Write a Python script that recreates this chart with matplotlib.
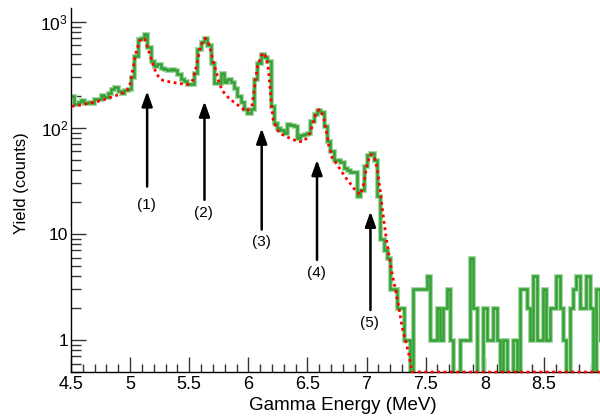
import numpy as np
import matplotlib
matplotlib.use('Agg')
import matplotlib.pyplot as plt
from matplotlib.ticker import MultipleLocator, LogLocator, FuncFormatter, NullFormatter

plt.rcParams['font.family'] = ['Liberation Sans', 'DejaVu Sans']
plt.rcParams['mathtext.fontset'] = 'custom'
plt.rcParams['mathtext.rm'] = 'Liberation Sans'

# measured spectrum, 160 bins between 4.5 and 9 MeV
e_min, e_max, n_bins = 4.5, 9.0, 160
counts = [
    200, 168, 175, 183, 170, 177, 173, 186, 186, 203,
    194, 215, 231, 243, 221, 215, 226, 231, 300, 480,
    685, 700, 763, 575, 430, 380, 397, 369, 356, 349,
    360, 349, 320, 290, 277, 262, 257, 330, 551, 640,
    707, 600, 412, 265, 265, 331, 270, 287, 270, 240,
    200, 175, 151, 137, 150, 287, 412, 494, 470, 426,
    160, 112, 100, 95, 90, 108, 106, 105, 80, 85,
    87, 90, 115, 135, 149, 140, 105, 75, 60, 50,
    50, 48, 42, 40, 38, 38, 23, 26, 44, 55,
    58, 50, 23, 9, 7, 6, 3, 3, 2, 2,
    1, 1, 0, 3, 3, 3, 3, 4, 1, 1,
    2, 1, 2, 3, 1, 0, 0, 1, 1, 1,
    6, 2, 0, 0, 2, 1, 1, 2, 1, 0,
    1, 0, 0, 1, 0, 3, 3, 2, 1, 4,
    1, 1, 3, 1, 2, 2, 4, 2, 1, 0,
    2, 3, 4, 2, 2, 4, 2, 0, 3, 1,
]

# fit curve (red dotted)
fit_energy = [4.508, 4.60, 4.66, 4.75, 4.829, 4.90, 4.969, 4.997, 5.025, 5.053,
              5.081, 5.104, 5.123, 5.143, 5.166, 5.193, 5.222, 5.250, 5.278, 5.334,
              5.418, 5.488, 5.530, 5.559, 5.587, 5.615, 5.635, 5.657, 5.677, 5.699,
              5.727, 5.755, 5.783, 5.812, 5.840, 5.90, 5.95, 5.99, 6.03, 6.050,
              6.078, 6.107, 6.128, 6.154, 6.170, 6.182, 6.196, 6.210, 6.233, 6.261,
              6.318, 6.373, 6.429, 6.471, 6.513, 6.541, 6.570, 6.598, 6.612, 6.640,
              6.654, 6.682, 6.710, 6.752, 6.794, 6.836, 6.878, 6.907, 6.949, 6.977,
              7.005, 7.033, 7.061, 7.089, 7.118, 7.131, 7.160, 7.187, 7.215, 7.244,
              7.272, 7.300, 7.328, 7.356, 7.384, 7.40, 9.0]
fit_yield = [160, 166, 172, 180, 193, 205, 221, 251, 369, 530,
             660, 700, 690, 594, 494, 397, 325, 295, 280, 272,
             262, 257, 282, 375, 540, 660, 700, 660, 560, 440,
             340, 262, 222, 205, 188, 168, 152, 144, 160, 231,
             380, 477, 510, 460, 356, 251, 161, 120, 102, 90,
             83, 78, 74, 75, 85, 104, 134, 149, 146, 122,
             100, 67, 52, 45, 38, 32.5, 28.5, 25.5, 23.5, 30,
             46, 56, 55, 42, 24.3, 18.2, 10.2, 6.6, 4.3, 3.0,
             2.06, 1.34, 1.0, 0.75, 0.5, 0, 0]

# arrows marking the peaks
peak_labels = ['(1)', '(2)', '(3)', '(4)', '(5)']
peak_energy = [5.144, 5.629, 6.113, 6.581, 7.033]
arrow_tip = [222, 178, 99, 50, 16.3]
arrow_tail = [28, 21, 11, 5.7, 1.92]
label_y = [18.9, 15.9, 8.4, 4.3, 1.45]

y_min, y_max = 0.5, 1350

fig = plt.figure(figsize=(6, 4.17), dpi=100)
ax = fig.add_axes([71 / 600, 45 / 417, 532 / 600, 364 / 417])

edges = np.linspace(e_min, e_max, n_bins + 1)
ax.stairs(counts, edges, baseline=None, color='#a6d8a6', lw=3.6, zorder=2)
ax.stairs(counts, edges, baseline=None, color='#33a033', lw=1.8, zorder=2.1)

ax.plot(fit_energy, np.maximum(fit_yield, y_min), color='red', lw=2,
        linestyle=(0, (1, 1.3)), zorder=3, clip_on=False)

for lab, e, tip, tail, ly in zip(peak_labels, peak_energy, arrow_tip, arrow_tail, label_y):
    ax.annotate('', xy=(e, tip), xytext=(e, tail),
                arrowprops=dict(arrowstyle='-|>,head_length=0.9,head_width=0.32',
                                color='black', lw=1.8, shrinkA=0, shrinkB=0))
    ax.text(e - 0.005, ly, lab, ha='center', va='center', fontsize=11)

ax.set_yscale('log')
ax.set_xlim(e_min, e_max)
ax.set_ylim(y_min, y_max)

ax.xaxis.set_major_locator(MultipleLocator(0.5))
ax.xaxis.set_minor_locator(MultipleLocator(0.1))
ax.xaxis.set_major_formatter(FuncFormatter(lambda v, p: f'{v:g}'))
ax.yaxis.set_major_locator(LogLocator(base=10))
ax.yaxis.set_minor_locator(LogLocator(base=10, subs=np.arange(2, 10)))
ylabels = {1: '1', 10: '10', 100: r'$\mathregular{10^2}$', 1000: r'$\mathregular{10^3}$'}
ax.yaxis.set_major_formatter(FuncFormatter(lambda v, p: ylabels.get(int(round(v)), '')))
ax.yaxis.set_minor_formatter(NullFormatter())

ax.tick_params(which='both', direction='in', top=False, right=False, color='#333333', width=1)
ax.tick_params(axis='x', which='major', length=11, pad=3, labelsize=13)
ax.tick_params(axis='x', which='minor', length=5.5)
ax.tick_params(axis='y', which='major', length=11, pad=2, labelsize=12.5)
ax.tick_params(axis='y', which='minor', length=7)

for side in ['top', 'right']:
    ax.spines[side].set_visible(False)
for side in ['left', 'bottom']:
    ax.spines[side].set_linewidth(1)

ax.set_xlabel('Gamma Energy (MeV)', fontsize=13.5)
ax.xaxis.set_label_coords(0.511, -0.068)
ax.set_ylabel('Yield (counts)', fontsize=12)
ax.yaxis.set_label_coords(-0.079, 0.52)

fig.savefig('out.png', dpi=100)
